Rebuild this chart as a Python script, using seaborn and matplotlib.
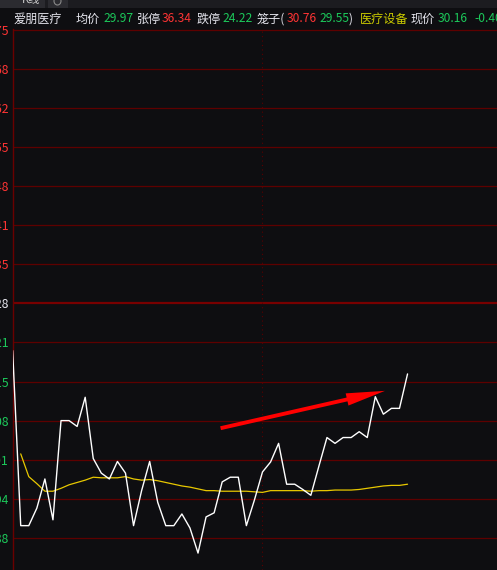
import numpy as np
import pandas as pd
import matplotlib
matplotlib.use('Agg')
import matplotlib.pyplot as plt
import seaborn as sns
from matplotlib.patches import Rectangle, Circle

# intraday price (white) and average price (yellow), one point per minute
price = [30.20, 29.90, 29.90, 29.93, 29.98, 29.91, 30.08, 30.08, 30.07, 30.12,
         30.015, 29.99, 29.98, 30.01, 29.99, 29.90, 29.96, 30.01, 29.94, 29.90,
         29.90, 29.92, 29.896, 29.853, 29.915, 29.922, 29.975, 29.983, 29.983, 29.90,
         29.944, 29.992, 30.009, 30.041, 29.971, 29.971, 29.962, 29.952, 30.002, 30.051,
         30.041, 30.051, 30.051, 30.061, 30.051, 30.121, 30.091, 30.101, 30.101, 30.16]
avg_price = [np.nan, 30.023, 29.984, 29.972, 29.959, 29.959, 29.964, 29.970, 29.974, 29.978,
             29.983, 29.982, 29.982, 29.982, 29.984, 29.980, 29.978, 29.979, 29.977, 29.974,
             29.971, 29.968, 29.966, 29.963, 29.960, 29.960, 29.959, 29.959, 29.959, 29.959,
             29.958, 29.957, 29.960, 29.960, 29.960, 29.960, 29.960, 29.959, 29.960, 29.960,
             29.961, 29.961, 29.961, 29.962, 29.964, 29.966, 29.968, 29.969, 29.969, 29.971]

prev_close = 30.281
tick_values = [30.75, 30.683, 30.616, 30.549, 30.482, 30.415, 30.348, 30.281,
               30.214, 30.147, 30.080, 30.013, 29.946, 29.879]
tick_labels = ['30.75', '30.68', '30.62', '30.55', '30.48', '30.41', '30.35', '30.28',
               '30.21', '30.15', '30.08', '30.01', '29.94', '29.88']
divider_index = 31

header = [('爱朋医疗', 13, 'w'), ('均价', 76, 'w'), ('29.97', 103, 'g'),
          ('张停', 137, 'w'), ('36.34', 162, 'r'), ('跌停', 197, 'w'), ('24.22', 222, 'g'),
          ('笼子(', 257, 'w'), ('30.76', 287, 'r'), ('29.55', 319, 'g'), (')', 349, 'w'),
          ('医疗设备', 360, 'y'), ('现价', 411, 'w'), ('30.16', 438, 'g'), ('-0.40', 474, 'g')]

bg = '#0e0e11'
red = '#ff3434'
green = '#1cc85a'
white = '#e6e6ee'
colors = {'w': white, 'g': green, 'r': red, 'y': '#cccc00'}

df = pd.DataFrame({'minute': range(len(price)), 'price': price, 'avg': avg_price})

sns.set_style('dark')
plt.rcParams['font.family'] = ['Noto Sans CJK SC', 'DejaVu Sans']

W, H = 497, 570
fig = plt.figure(figsize=(W / 100, H / 100), dpi=100, facecolor=bg)
ax = fig.add_axes([12.5 / W, 0, 1 - 12.5 / W, 1 - 28.8 / H])
ax.set_facecolor(bg)

# grid lines
for v in tick_values:
    if v == prev_close:
        ax.axhline(v, color='#780000', lw=1.6, zorder=1)
    else:
        ax.axhline(v, color='#5e0000', lw=0.9, zorder=1)
ax.axvline(divider_index, color='#5a0000', lw=0.8, ls=(0, (1, 3)), zorder=1)

sns.lineplot(data=df, x='minute', y='avg', color='#e8c800', lw=0.9, ax=ax, zorder=3)
sns.lineplot(data=df, x='minute', y='price', color='white', lw=1.0, ax=ax, zorder=4)

ax.annotate('', xy=(46.2, 30.131), xytext=(25.8, 30.067),
            arrowprops=dict(arrowstyle='simple,head_length=2.8,head_width=0.9,tail_width=0.28',
                            color='#ff0000', lw=0, shrinkA=0, shrinkB=0, mutation_scale=10),
            zorder=5)

ax.set_xlim(-0.02, 60.1)
ax.set_ylim(29.824, 30.7514)
ax.set_xticks([])
ax.set_yticks(tick_values)
ax.set_yticklabels(tick_labels, fontsize=8.8)
for lab, v in zip(ax.get_yticklabels(), tick_values):
    if v > prev_close:
        lab.set_color(red)
    elif v < prev_close:
        lab.set_color(green)
    else:
        lab.set_color(white)
ax.tick_params(axis='y', length=0, pad=2.6)
ax.set_xlabel('')
ax.set_ylabel('')
ax.grid(False)
for s in ['top', 'right', 'bottom']:
    ax.spines[s].set_visible(False)
ax.spines['left'].set_color('#6a0000')
ax.spines['left'].set_linewidth(1.0)


def px(x, y):
    return x / W, 1 - y / H


# tab strip at the very top
fig.patches.append(Rectangle(px(0, 8), 1, 8 / H, transform=fig.transFigure,
                             facecolor='#1c1c20', edgecolor='none'))
fig.patches.append(Rectangle(px(0, 8), 45 / W, 8 / H, transform=fig.transFigure,
                             facecolor='#2b2b30', edgecolor='none'))
fig.patches.append(Rectangle(px(48, 8), 20 / W, 8 / H, transform=fig.transFigure,
                             facecolor='#2b2b30', edgecolor='none'))
fig.text(*px(31, 0), 'K线', color='#cfcfcf', fontsize=8, ha='center', va='center')
fig.patches.append(Circle(px(57.5, 1), 3.5 / W, transform=fig.transFigure,
                          facecolor='none', edgecolor='#888888', lw=0.8))

for text, x, c in header:
    fig.text(*px(x, 19), text, color=colors[c], fontsize=8.7, ha='left', va='center')

fig.savefig('out.png', dpi=100, facecolor=bg)
